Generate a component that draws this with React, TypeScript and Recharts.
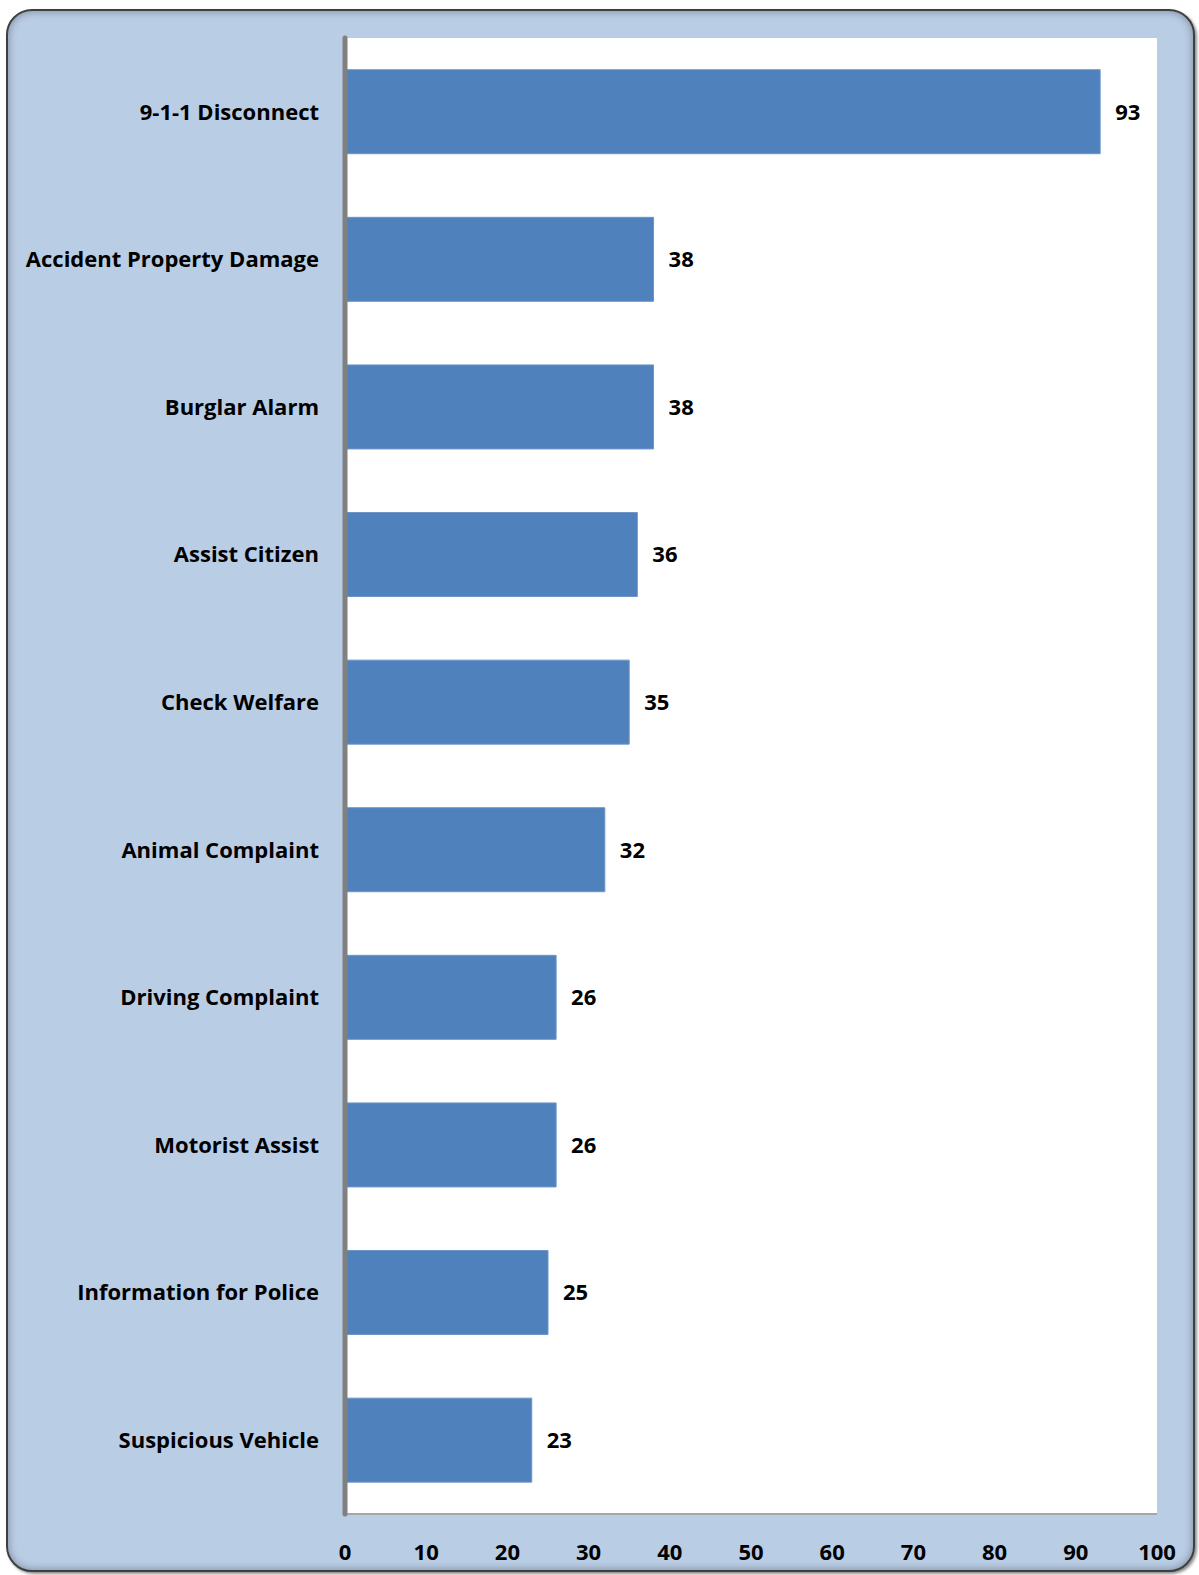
import React from "react";
import { BarChart, Bar, XAxis, YAxis, CartesianGrid, LabelList } from "recharts";

const categories = [
  "9-1-1 Disconnect",
  "Accident Property Damage",
  "Burglar Alarm",
  "Assist Citizen",
  "Check Welfare",
  "Animal Complaint",
  "Driving Complaint",
  "Motorist Assist",
  "Information for Police",
  "Suspicious Vehicle",
];
const counts = [93, 38, 38, 36, 35, 32, 26, 26, 25, 23];
const xTicks = [0, 10, 20, 30, 40, 50, 60, 70, 80, 90, 100];

const data = categories.map((name, i) => ({ name, value: counts[i] }));

const FONT = "'Open Sans', 'DejaVu Sans', sans-serif";

export default function App() {
  return (
    <div
      style={{
        position: "absolute",
        left: 0,
        top: 0,
        width: 1199,
        height: 1575,
        background: "#FFFFFF",
        fontFamily: FONT,
      }}
    >
      <div
        style={{
          position: "absolute",
          left: 6,
          top: 9,
          width: 1185,
          height: 1559,
          border: "2px solid #3F3F3F",
          borderRadius: 26,
          background: "#B9CDE5",
          boxShadow: "inset 0 0 8px rgba(0,0,0,0.35), 2px 2px 3px rgba(0,0,0,0.45)",
        }}
      />
      <div style={{ position: "absolute", left: 0, top: 0 }}>
        <BarChart
          width={1199}
          height={1575}
          data={data}
          layout="vertical"
          margin={{ top: 38, right: 42, bottom: 31, left: 15 }}
          barCategoryGap="21.5%"
        >
          <CartesianGrid fill="#FFFFFF" stroke="none" horizontal={false} vertical={false} />
          <XAxis
            type="number"
            domain={[0, 100]}
            ticks={xTicks}
            interval={0}
            height={30}
            axisLine={{ stroke: "#A6A6A6", strokeWidth: 2 }}
            tickLine={false}
            tickSize={0}
            tickMargin={30}
            tick={{ fill: "#000000", fontSize: 22, fontWeight: 700, fontFamily: FONT }}
          />
          <YAxis
            type="category"
            dataKey="name"
            width={330}
            interval={0}
            axisLine={{ stroke: "#808080", strokeWidth: 5, strokeLinecap: "round" }}
            tickLine={false}
            tickSize={0}
            tickMargin={26}
            tick={{ fill: "#000000", fontSize: 22, fontWeight: 700, fontFamily: FONT }}
          />
          <Bar dataKey="value" fill="#4F81BD" stroke="#6D95C8" strokeWidth={1} isAnimationActive={false}>
            <LabelList
              dataKey="value"
              position="right"
              offset={15}
              fill="#000000"
              fontSize={22}
              fontWeight={700}
              fontFamily={FONT}
            />
          </Bar>
        </BarChart>
      </div>
    </div>
  );
}
